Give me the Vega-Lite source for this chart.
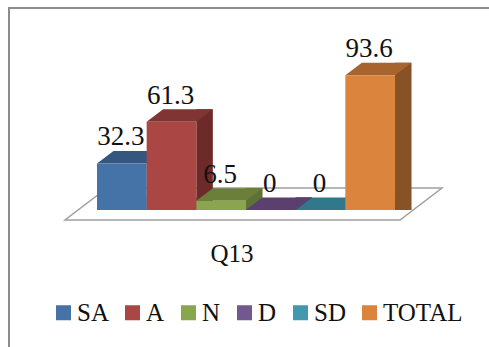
{
  "$schema": "https://vega.github.io/schema/vega-lite/v6.json",
  "width": 485,
  "height": 345,
  "padding": {"left": 9, "top": 8, "right": 0, "bottom": 0},
  "autosize": "none",
  "background": "white",
  "view": {"stroke": "#8c8c8c", "strokeWidth": 2, "fill": "white"},
  "data": {
    "values": [
      {"question": "Q13", "answer": "SA", "value": 32.3},
      {"question": "Q13", "answer": "A", "value": 61.3},
      {"question": "Q13", "answer": "N", "value": 6.5},
      {"question": "Q13", "answer": "D", "value": 0},
      {"question": "Q13", "answer": "SD", "value": 0},
      {"question": "Q13", "answer": "TOTAL", "value": 93.6}
    ]
  },
  "encoding": {
    "x": {
      "field": "answer",
      "type": "nominal",
      "sort": ["SA", "A", "N", "D", "SD", "TOTAL"],
      "scale": {"type": "band", "paddingInner": 0, "paddingOuter": 0, "range": [88, 386]},
      "axis": null
    },
    "y": {
      "field": "value",
      "type": "quantitative",
      "stack": null,
      "scale": {"domain": [-99.3, 140.28], "nice": false, "zero": false},
      "axis": null
    }
  },
  "layer": [
    {
      "description": "Floor of the 3D box, anchored at the category centre on the zero line; also carries the category axis",
      "transform": [{"filter": "datum.answer === 'SA'"}],
      "mark": {
        "type": "point",
        "shape": "M-181,10 L154,10 L196,-22 L-139,-22 Z",
        "size": 4,
        "filled": false,
        "fill": "white",
        "stroke": "#a0a0a0",
        "strokeWidth": 1.5,
        "opacity": 1
      },
      "encoding": {
        "x": {
          "field": "question",
          "type": "nominal",
          "scale": {"type": "band", "paddingInner": 0, "paddingOuter": 0, "range": [88, 386]},
          "axis": {
            "title": null,
            "domain": false,
            "ticks": false,
            "labelAngle": 0,
            "labelFont": "Liberation Serif",
            "labelFontSize": 25,
            "labelColor": "#111111",
            "labelOffset": -14,
            "labelPadding": -112
          }
        },
        "y": {"datum": 0, "type": "quantitative"}
      }
    },
    {
      "description": "Right-hand faces: a rectangle shifted along the depth direction",
      "mark": {"type": "bar", "width": 16.5, "xOffset": 33.1, "yOffset": -12.5},
      "encoding": {
        "y2": {"datum": 0},
        "color": {
          "field": "answer",
          "type": "nominal",
          "legend": null,
          "scale": {
            "domain": ["SA", "A", "N", "D", "SD", "TOTAL"],
            "range": ["#2e4d73", "#6e2a28", "#5e7136", "#4c3864", "#2a6678", "#875226"]
          }
        }
      }
    },
    {
      "description": "Lower corner of the right-hand faces",
      "mark": {
        "type": "point",
        "shape": "M24.85,0 L41.35,-12.5 L24.85,-12.5 Z",
        "size": 4,
        "filled": true,
        "strokeWidth": 0,
        "opacity": 1
      },
      "encoding": {
        "y": {"datum": 0, "type": "quantitative"},
        "color": {
          "field": "answer",
          "type": "nominal",
          "legend": null,
          "scale": {
            "domain": ["SA", "A", "N", "D", "SD", "TOTAL"],
            "range": ["#2e4d73", "#6e2a28", "#5e7136", "#4c3864", "#2a6678", "#875226"]
          }
        }
      }
    },
    {
      "description": "Top faces",
      "mark": {
        "type": "point",
        "shape": "M-24.85,0 L24.85,0 L41.35,-12.5 L-8.35,-12.5 Z",
        "size": 4,
        "filled": true,
        "strokeWidth": 0,
        "opacity": 1
      },
      "encoding": {
        "color": {
          "field": "answer",
          "type": "nominal",
          "legend": null,
          "scale": {
            "domain": ["SA", "A", "N", "D", "SD", "TOTAL"],
            "range": ["#34567f", "#803533", "#6b7f3b", "#59406f", "#31788c", "#a7642e"]
          }
        }
      }
    },
    {
      "description": "Front faces, which also carry the legend",
      "mark": {"type": "bar", "width": {"band": 1}},
      "encoding": {
        "y2": {"datum": 0},
        "color": {
          "field": "answer",
          "type": "nominal",
          "scale": {
            "domain": ["SA", "A", "N", "D", "SD", "TOTAL"],
            "range": ["#4572a7", "#aa4643", "#89a54e", "#71588f", "#4198af", "#db843d"]
          },
          "legend": {
            "title": null,
            "orient": "none",
            "legendX": 42,
            "legendY": 292,
            "direction": "horizontal",
            "columns": 6,
            "columnPadding": 11,
            "symbolType": "square",
            "symbolSize": 225,
            "symbolStrokeWidth": 0,
            "symbolOpacity": 1,
            "labelFont": "Liberation Serif",
            "labelFontSize": 25,
            "labelColor": "#111111",
            "labelOffset": 1,
            "labelLimit": 200
          }
        }
      }
    },
    {
      "description": "Value labels above each front face",
      "mark": {
        "type": "text",
        "font": "Liberation Serif",
        "fontSize": 27,
        "color": "#111111",
        "baseline": "alphabetic",
        "align": "center",
        "dx": -1,
        "dy": -18
      },
      "encoding": {"text": {"field": "value", "type": "quantitative"}}
    }
  ],
  "resolve": {"scale": {"color": "independent", "x": "independent"}}
}
